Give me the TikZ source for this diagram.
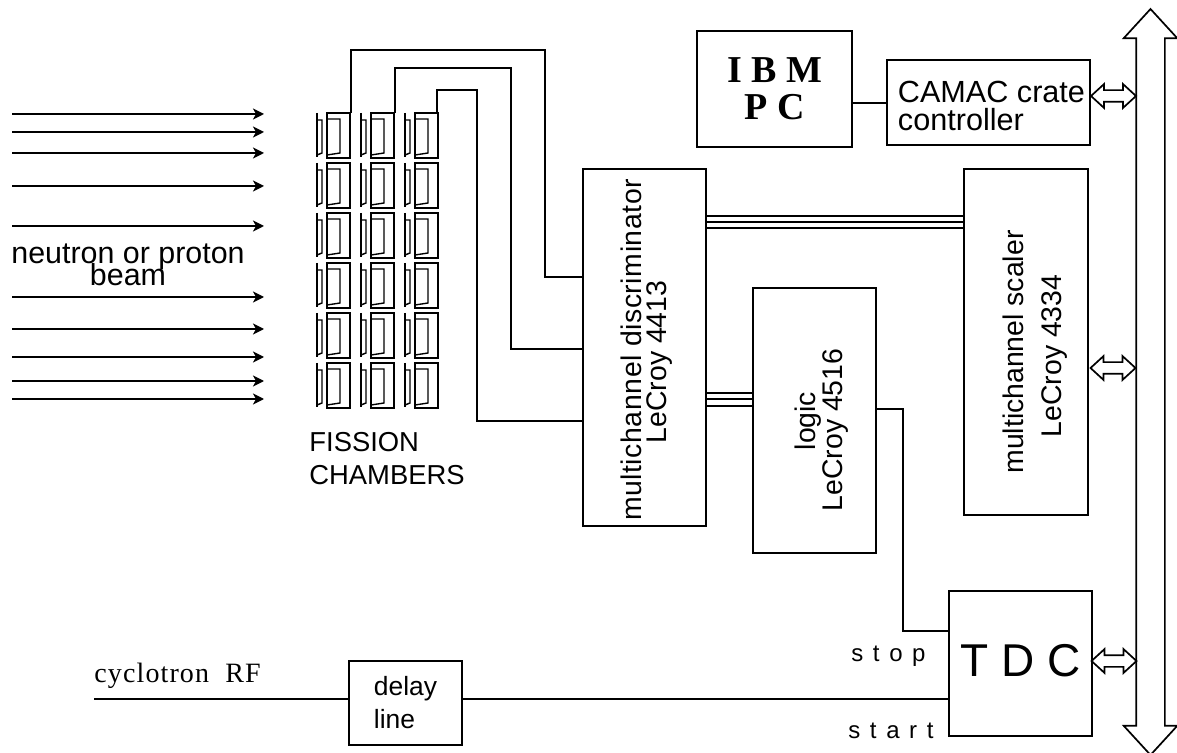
\documentclass[tikz,border=0pt]{standalone}
\usepackage{fontspec}
\setmainfont{Liberation Sans}
\usetikzlibrary{shapes.arrows, arrows.meta}
\tikzset{
  blockbox/.style={draw, line width=0.95pt, inner sep=0pt, align=center},
  wire/.style={line width=0.9pt},
  beamline/.style={line width=0.8pt, ->},
  busarrow/.style={draw, shape=double arrow, line width=0.85pt, inner sep=2.5pt, double arrow head extend=3pt, double arrow tip angle=85, minimum height=22.5pt},
  labeltext/.style={inner sep=0pt, align=left},
  rotlabel/.style={inner sep=0pt, anchor=base, rotate=90, font=\fontsize{14.2}{17}\selectfont},
  spaced/.style={inner sep=0pt, anchor=base west, font=\fontsize{12}{14}\selectfont\addfontfeature{LetterSpace=40}}
}
\newfontfamily\romanfont{Liberation Serif}
\begin{document}
\begin{tikzpicture}[>={Stealth[length=5.5pt,width=5.5pt,inset=1.5pt]}, x=0.5pt, y=-0.5pt]
  \useasboundingbox (0,0) rectangle (1177,753);
  % beam
  \foreach \y in {114,132,153,186,226,297,329,357,381,399} {
    \coordinate (beamS\y) at (12,\y);
    \coordinate (beamE\y) at (264,\y);
    \draw[beamline] (beamS\y) -- (beamE\y);
  }
  \node[labeltext, align=center, font=\fontsize{15.2}{11.5}\selectfont] (beamlabel) at (128,265) {neutron or proton\\[-4pt]beam};
  % chambers
  \foreach \cx in {0,44,88}
    \foreach \cy in {0,50,100,150,200,250} {
      \begin{scope}[shift={(\cx,\cy)}, line width=0.7pt]
        \draw (317,113) -- (317,157);
        \draw (317,120) -- (322,120) -- (322,153) -- (317,155);
        \draw (327,113) rectangle (350,158);
        \draw (327,119) -- (340,119) -- (340,153) -- (327,155);
      \end{scope}
    }
  \coordinate (chamberA) at (351,113);
  \coordinate (chamberB) at (395,113);
  \coordinate (chamberC) at (437,113);
  \node[labeltext, font=\fontsize{13.7}{16.5}\selectfont, anchor=north west] (fission) at (309,432) {FISSION\\CHAMBERS};
  % blocks
  \node[blockbox, minimum width=61.5pt, minimum height=178.5pt] (disc) at (644.5,347.5) {};
  \node[rotlabel, font=\fontsize{14.2}{17}\selectfont\addfontfeature{LetterSpace=2}] (disctop) at (641,350) {multichannel discriminator};
  \node[rotlabel] (discbot) at (666,362) {LeCroy 4413};
  \node[blockbox, minimum width=62pt, minimum height=173pt] (scaler) at (1026,342) {};
  \node[rotlabel] (scalertop) at (1023,352) {multichannel scaler};
  \node[rotlabel] (scalerbot) at (1061,356) {LeCroy 4334};
  \node[blockbox, minimum width=61.5pt, minimum height=132.5pt] (logic) at (814.5,420.5) {};
  \node[rotlabel] (logictop) at (815,421) {logic};
  \node[rotlabel] (logicbot) at (842,430) {LeCroy 4516};
  \node[blockbox, minimum width=77.5pt, minimum height=58pt, font=\romanfont\bfseries\fontsize{19}{18.5}\selectfont] (ibm) at (774.5,89) {I B M\\P C\hspace{9pt}};
  \node[blockbox, minimum width=101.5pt, minimum height=42.5pt] (camac) at (988.5,102.5) {};
  \node[labeltext, font=\fontsize{15.3}{14}\selectfont] (camaclabel) at (991.5,106) {CAMAC crate\\controller};
  \node[blockbox, minimum width=71.5pt, minimum height=72.5pt, font=\fontsize{23}{26}\selectfont] (tdc) at (1020.5,663.5) {\raisebox{3pt}{T D C}};
  \node[blockbox, minimum width=56.5pt, minimum height=42pt, align=left, font=\fontsize{13.2}{16.5}\selectfont] (delay) at (405.5,703) {delay\\line};
  % bus
  \node[busarrow, shape border rotate=90, inner sep=6.75pt, double arrow head extend=6.2pt, minimum height=373pt] (bus) at (1150.5,382) {};
  \node[busarrow] (camacbus) at (1113.5,96) {};
  \node[busarrow] (scalerbus) at (1113,368) {};
  \node[busarrow] (tdcbus) at (1114,661) {};
  % wires
  \coordinate (discA) at (583,277);
  \coordinate (discB) at (583,349);
  \coordinate (discC) at (583,421);
  \draw[wire] (chamberA) -- (351,50) -- (545,50) -- (545,277) -- (discA);
  \draw[wire] (chamberB) -- (395,68) -- (511,68) -- (511,349) -- (discB);
  \draw[wire] (chamberC) -- (437,90) -- (477,90) -- (477,421) -- (discC);
  \foreach \y in {216,222,228} {
    \coordinate (discS\y) at (706,\y);
    \coordinate (scalerS\y) at (964,\y);
    \draw[wire] (discS\y) -- (scalerS\y);
  }
  \foreach \y in {393,399,406} {
    \coordinate (discL\y) at (706,\y);
    \coordinate (logicL\y) at (753,\y);
    \draw[wire] (discL\y) -- (logicL\y);
  }
  \coordinate (logicout) at (876,409);
  \coordinate (tdcstop) at (949,631);
  \draw[wire] (logicout) -- (903,409) -- (903,631) -- (tdcstop);
  \coordinate (rfin) at (94,699);
  \coordinate (delayin) at (349,699);
  \coordinate (delayout) at (462,699);
  \coordinate (tdcstart) at (949,699);
  \draw[wire] (rfin) -- (delayin);
  \draw[wire] (delayout) -- (tdcstart);
  \coordinate (ibmout) at (852,103);
  \coordinate (camacin) at (887,103);
  \draw[wire] (ibmout) -- (camacin);
  % labels
  \node[spaced, font=\romanfont\fontsize{14}{16}\selectfont\addfontfeature{LetterSpace=4}] (rflabel) at (94,682) {cyclotron\ \ RF};
  \node[spaced] (stoplabel) at (851,661) {stop};
  \node[spaced] (startlabel) at (848,738) {start};
\end{tikzpicture}
\end{document}
